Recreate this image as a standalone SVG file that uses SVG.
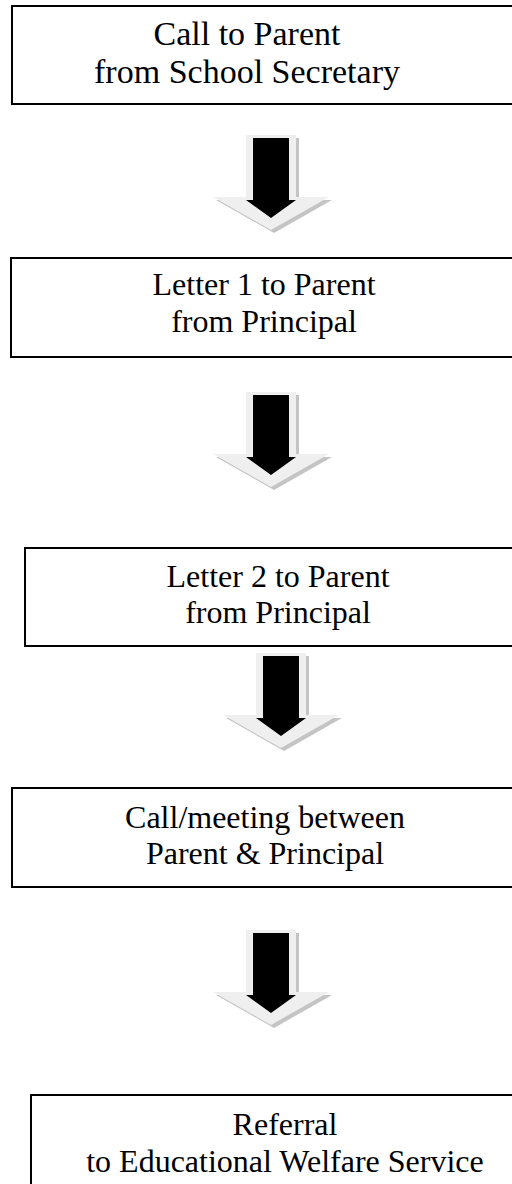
<svg xmlns="http://www.w3.org/2000/svg" width="512" height="1184" viewBox="0 0 512 1184">
<style>
.box{fill:#fff;stroke:#000;stroke-width:2}
.t{font-family:"Liberation Serif","Times New Roman",serif;font-size:32px;fill:#000;text-anchor:middle}
.big{font-size:34px}
.lt{fill:#efefef}
.sh{fill:#c4c4c4}
.bk{fill:#000}
</style>
<defs>
<g id="arr">
<path class="sh" d="M-22,3 H28 V65 H61 L3,98 L-55,65 H-22 Z"/>
<path class="lt" d="M-25,0 H25 V62 H58 L0,95 L-58,62 H-25 Z"/>
<path class="bk" d="M-18,3 H18 V65 H25 L0,83 L-25,65 H-18 Z"/>
</g>
</defs>
<rect width="512" height="1184" fill="#fff"/>
<g id="connectors">
<use href="#arr" x="271" y="135"/>
<use href="#arr" x="271" y="392"/>
<use href="#arr" x="281" y="653"/>
<use href="#arr" x="271" y="930"/>
</g>
<g id="n1">
<rect class="box" x="12" y="6" width="520" height="98"/>
<text class="t big" x="247" y="45">Call to Parent</text>
<text class="t big" x="247" y="83">from School Secretary</text>
</g>
<g id="n2">
<rect class="box" x="11" y="258" width="520" height="99"/>
<text class="t" x="264" y="295">Letter 1 to Parent</text>
<text class="t" x="264" y="332">from Principal</text>
</g>
<g id="n3">
<rect class="box" x="25" y="548" width="520" height="98"/>
<text class="t" x="278" y="587">Letter 2 to Parent</text>
<text class="t" x="278" y="623">from Principal</text>
</g>
<g id="n4">
<rect class="box" x="12" y="788" width="520" height="99"/>
<text class="t" x="265" y="828">Call/meeting between</text>
<text class="t" x="265" y="864">Parent &amp; Principal</text>
</g>
<g id="n5">
<rect class="box" x="31" y="1095" width="520" height="120"/>
<text class="t" x="285" y="1135">Referral</text>
<text class="t" x="285" y="1172">to Educational Welfare Service</text>
</g>
</svg>
